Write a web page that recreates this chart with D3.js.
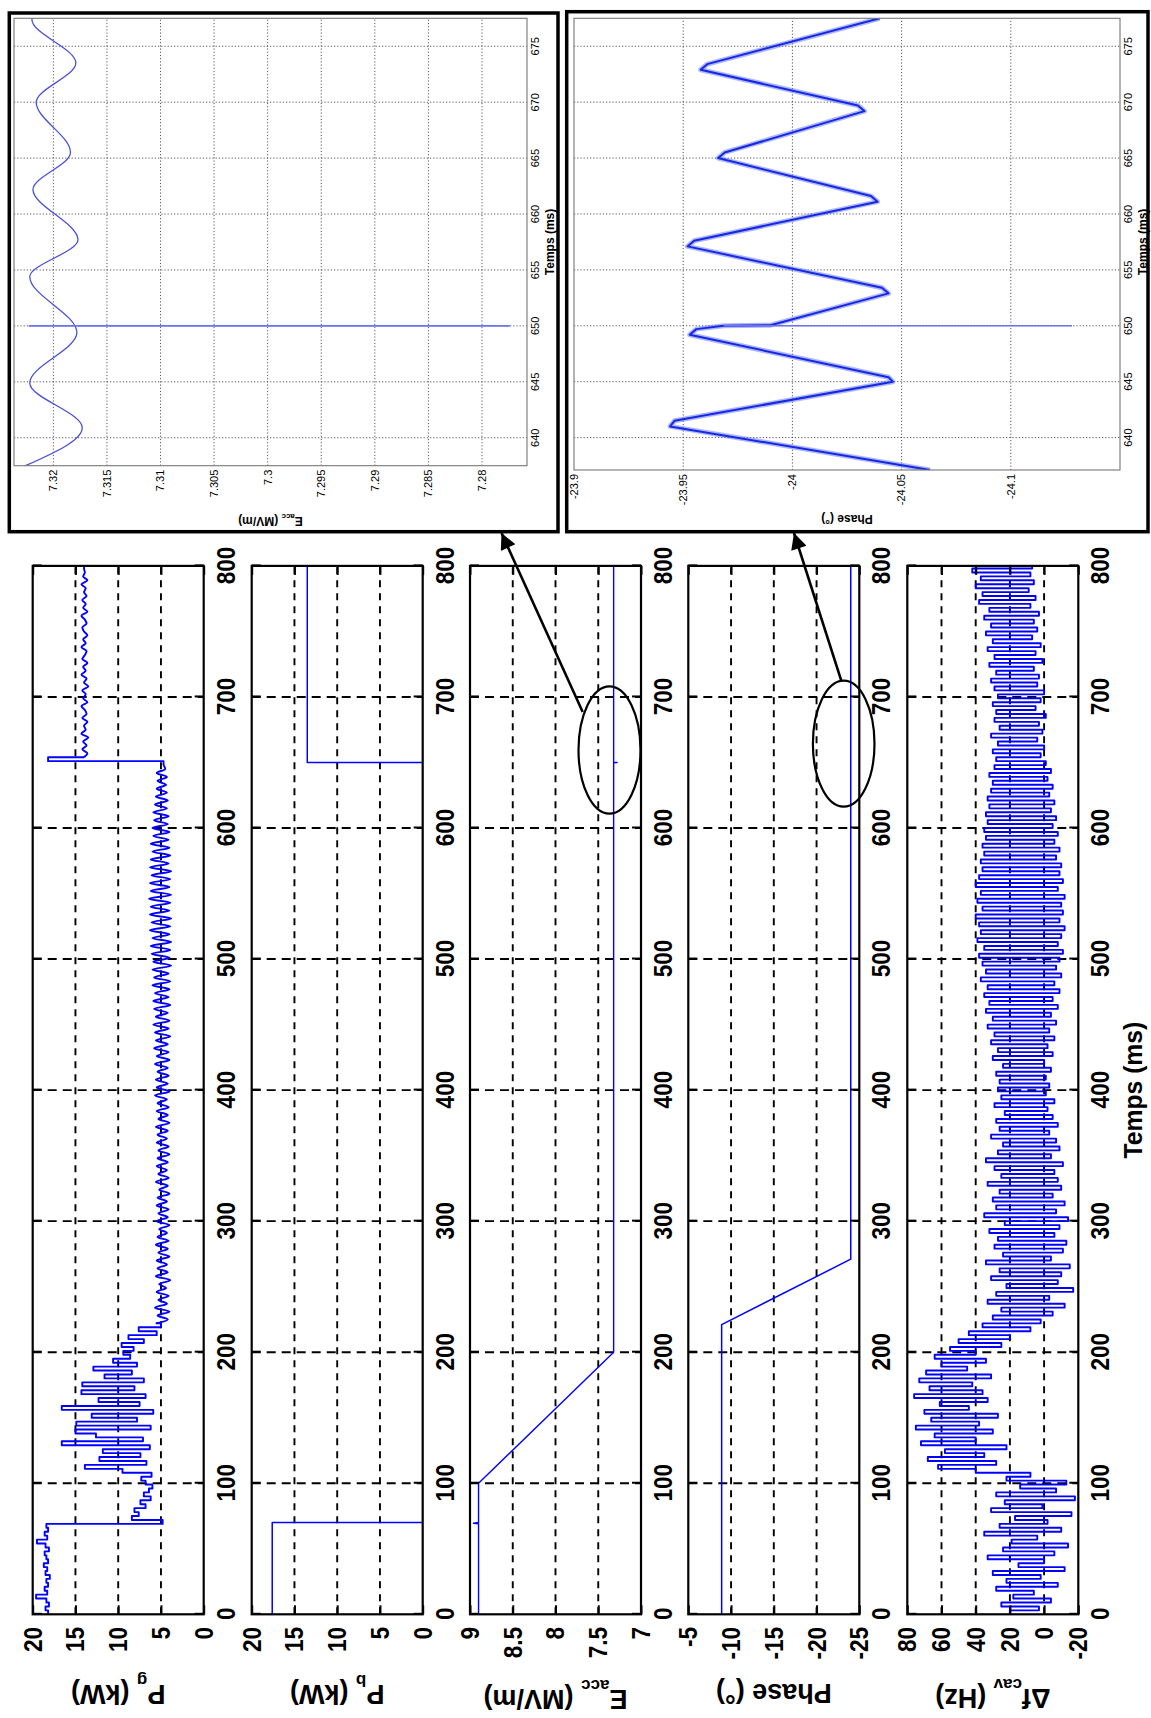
<!DOCTYPE html>
<html><head><meta charset="utf-8">
<script src="https://cdn.jsdelivr.net/npm/d3@7"></script>
<style>
html,body{margin:0;padding:0;background:#fff;}
svg{display:block;}
</style></head><body>
<svg id="chart" width="1151" height="1718"></svg>
<script>
// ---------------- DATA ----------------
const timeTicks = [0, 100, 200, 300, 400, 500, 600, 700, 800];
const timeDomain = [0, 800];

// P_g (kW), sampled every 3 ms from t = 0
const pgStart = 0, pgStep = 3;
const pgValues = [
 18.2,18.5,18.1,18.4,19.6,18.3,18.6,18.2,18.4,18.0,18.5,18.3,18.7,18.2,18.4,18.6,18.1,18.5,19.5,18.3,18.6,18.2,18.4,4.8,
 8.4,7.6,8.1,6.8,7.4,6.2,7.0,6.4,6.0,6.8,
 7.3,6.1,9.5,13.9,6.7,12.2,7.4,11.8,6.3,16.6,7.1,12.6,15.0,6.2,14.9,7.8,13.1,5.9,16.6,7.5,12.3,6.8,14.3,8.1,14.2,7.0,11.6,8.4,12.9,7.8,10.6,8.6,9.4,
 8.2,9.6,7.0,8.8,5.5,7.6,5.0,
 5.6,4.2,5.4,4.0,5.7,4.3,5.3,4.1,5.5,4.4,5.2,3.9,5.6,4.2,5.4,4.3,5.5,4.0,5.3,4.2,5.6,4.1,5.4,4.3,5.2,4.0,5.5,
 4.2,5.3,4.1,5.5,4.3,5.4,4.0,5.2,4.2,5.6,4.1,5.3,4.3,5.5,4.2,5.4,4.0,5.3,4.1,5.5,
 4.3,5.4,4.2,5.6,4.0,5.3,4.2,5.5,4.1,5.4,4.3,5.7,4.0,5.5,4.2,5.6,4.1,5.4,4.2,5.7,
 4.0,5.5,4.1,5.8,4.2,5.6,3.9,5.7,4.1,5.9,4.0,5.6,4.2,5.8,3.9,5.9,4.1,5.7,4.0,6.0,
 3.9,5.8,4.1,6.0,3.8,5.9,
 4.0,6.1,3.9,6.2,3.8,6.0,4.0,6.3,3.9,6.1,
 3.8,6.3,4.0,6.2,3.9,6.4,3.8,6.2,4.0,6.3,
 3.9,6.1,3.8,6.3,4.1,6.2,3.9,6.0,4.0,6.2,
 4.1,5.9,4.0,6.0,4.2,5.8,4.1,5.9,4.3,5.7,
 4.2,5.6,4.3,5.5,4.4,5.4,4.3,5.5,4.5,4.7,
 18.2,
 14.0,13.6,14.2,13.7,14.1,13.5,14.3,13.8,14.0,13.6,
 14.2,13.7,13.9,14.3,13.6,14.1,13.8,14.2,13.5,14.0,
 13.7,14.3,13.8,14.1,13.6,14.2,13.9,13.7,14.3,13.8,
 14.1,13.6,14.0,14.2,13.7,13.9,14.3,13.6,14.1,13.8,
 14.2,13.7,14.0,13.8,14.3,13.6,14.1,13.9,14.0,
 13.9
];

// P_b (kW)
const pbTime  = [0, 70, 650, 800];
const pbValue = [17.6, 0, 13.5, 13.5];

// E_acc (MV/m)
const eaccTime  = [0, 69, 69.5, 70, 100, 200, 649.8, 650, 650.2, 800];
const eaccValue = [8.9, 8.9, 8.96, 8.9, 8.9, 7.32, 7.32, 7.28, 7.32, 7.32];

// Phase (deg)
const phaseTime  = [0, 221, 271, 800];
const phaseValue = [-8.9, -8.9, -24.0, -24.0];

// Delta f_cav (Hz), sampled every 3 ms from t = 0
const dfStart = 0, dfStep = 3;
const dfValues = [
 20,3,25,-4,18,6,28,-8,22,2,30,-12,15,0,33,-6,24,-14,19,4,35,-10,26,-2,17,-16,31,1,23,-18,28,-7,14,-13,
 22,8,40,
 62,28,68,35,58,22,72,40,64,30,75,38,66,27,70,44,61,33,76,36,67,42,73,31,69,45,60,34,64,40,
 55,25,50,20,44,8,36,2,
 30,-5,25,-12,33,-3,28,-17,22,-8,31,-10,26,-15,34,-4,24,-11,29,-13,27,-6,32,-9,23,-14,35,-7,28,-12,
 30,-5,26,-10,33,-8,25,-6,29,-11,34,-4,27,-9,24,-7,31,-3,26,-8,28,-5,23,-2,29,-6,25,-1,27,
 -3,26,-1,28,-4,24,0,30,-5,27,-2,31,-6,29,-3,33,-7,30,-4,34,
 -8,32,-5,35,-9,33,-6,37,-10,34,-7,36,-9,38,-11,35,-8,39,-10,37,
 -12,38,-9,40,-11,36,-10,39,-12,37,-8,40,-11,38,-9,36,-10,37,-7,35,
 -9,36,-6,34,-8,35,-5,33,-7,34,-4,32,-6,33,-3,31,-5,30,-2,32,-4,29,-1,
 28,2,30,0,27,4,31,1,26,3,29,-1,28,5,30,2,27,0,29,4,
 31,3,28,6,32,1,29,5,33,2,30,7,34,4,31,6,35,3,32,8,
 38,5,36,9,40,6,37,8,42,7,35
];

const pTicks     = [0, 5, 10, 15, 20];
const eaccTicks  = [7, 7.5, 8, 8.5, 9];
const phaseTicks = [-25, -20, -15, -10, -5];
const dfTicks    = [-20, 0, 20, 40, 60, 80];

// Zoom insets
const insetTimeTicks = [640, 645, 650, 655, 660, 665, 670, 675];
const eaccZoomTicks  = [7.28, 7.285, 7.29, 7.295, 7.3, 7.305, 7.31, 7.315, 7.32];
const phaseZoomTicks = [-24.1, -24.05, -24, -23.95, -23.9];
const eaccZoomTime   = [637.5, 640.9, 644.9, 649.4, 654.4, 657.7, 662.2, 665.5, 670.0, 673.5, 677.4, 677.6];
const eaccZoomValue  = [7.3226, 7.3173, 7.3222, 7.3178, 7.3222, 7.3177, 7.3219, 7.3184, 7.3216, 7.3179, 7.3220, 7.3219];
const eaccSpikeTime  = [650, 650];
const eaccSpikeValue = [7.3223, 7.2774];
const phaseZoomTime  = [637.1, 641.0, 641.5, 645.0, 645.4, 649.2, 649.7, 650.0, 650.05, 652.9, 653.4, 657.1, 657.6, 661.1, 661.6, 665.0, 665.5, 669.2, 669.7, 672.9, 673.4, 677.5];
const phaseZoomValue = [-24.063, -23.944, -23.946, -24.046, -24.044, -23.953, -23.956, -23.9685, -23.99, -24.044, -24.041, -23.952, -23.955, -24.039, -24.036, -23.966, -23.969, -24.033, -24.030, -23.958, -23.961, -24.040];
const phaseSpikeTime  = [650, 650];
const phaseSpikeValue = [-23.9685, -24.128];

// ---------------- LAYOUT (figure drawn unrotated, then turned 90deg) ----------------
const svg = d3.select('#chart');
const root = svg.append('g').attr('transform', 'translate(0,1718) rotate(-90)');
const defs = svg.append('defs');

const FONT = '"Liberation Sans", Arial, Helvetica, sans-serif';
const BLUE = '#0000ff';
const x = d3.scaleLinear(timeDomain, [103.7, 1152.1]);
const panelTop = [32.7, 251.7, 470, 688.3, 907.3];
const panelH = 171;
const TSCALE = 0.85;

const uniform = (start, step, vals) => vals.map((v, i) => ({t: start + i * step, v}));
const paired = (ts, vs) => ts.map((t, i) => ({t, v: vs[i]}));

const panels = [
  {lab: ['P', 'g', ' (kW)'], domain: [0, 20], ticks: pTicks, labU: 33,
   data: uniform(pgStart, pgStep, pgValues), w: 1.9,
   segs: [[0, 222, d3.curveStepAfter], [222, 648, d3.curveMonotoneX], [648, 654, d3.curveStepAfter], [654, 801, d3.curveMonotoneX]]},
  {lab: ['P', 'b', ' (kW)'], domain: [0, 20], ticks: pTicks, labU: 33,
   data: paired(pbTime, pbValue), w: 1.5, segs: [[0, 800, d3.curveStepAfter]]},
  {lab: ['E', 'acc', ' (MV/m)'], domain: [7, 9], ticks: eaccTicks, labU: 28,
   data: paired(eaccTime, eaccValue), w: 1.4, segs: [[0, 800, d3.curveLinear]]},
  {lab: ['Phase (°)', '', ''], domain: [-25, -5], ticks: phaseTicks, labU: 34,
   data: paired(phaseTime, phaseValue), w: 1.5, segs: [[0, 800, d3.curveLinear]]},
  {lab: ['Δf', 'cav', ' (Hz)'], domain: [-20, 80], ticks: dfTicks, labU: 29,
   data: uniform(dfStart, dfStep, dfValues), w: 1.9, segs: [[0, 801, d3.curveStepAfter]]}
];

panels.forEach((p, i) => {
  const top = panelTop[i], bot = top + panelH;
  const y = d3.scaleLinear(p.domain, [bot, top]);
  const g = root.append('g');
  const [u0, u1] = x.range();

  defs.append('clipPath').attr('id', 'clip' + i).append('rect')
    .attr('x', u0).attr('y', top).attr('width', u1 - u0).attr('height', panelH);

  // grid
  g.append('g').selectAll('line')
    .data(p.ticks.filter(d => d > p.domain[0] && d < p.domain[1])).join('line')
    .attr('x1', u0).attr('x2', u1).attr('y1', d => y(d)).attr('y2', d => y(d))
    .attr('stroke', '#000').attr('stroke-width', 1.9).attr('stroke-dasharray', '7,6');
  g.append('g').selectAll('line')
    .data(timeTicks.filter(d => d > timeDomain[0] && d < timeDomain[1])).join('line')
    .attr('x1', d => x(d)).attr('x2', d => x(d)).attr('y1', top).attr('y2', bot)
    .attr('stroke', '#000').attr('stroke-width', 1.9).attr('stroke-dasharray', '9,6');

  // series (piecewise drawing style)
  const sg = g.append('g').attr('clip-path', `url(#clip${i})`);
  p.segs.forEach(([t0, t1, curve]) => {
    sg.append('path').datum(p.data.filter(d => d.t >= t0 && d.t <= t1))
      .attr('fill', 'none').attr('stroke', BLUE).attr('stroke-width', p.w)
      .attr('stroke-linejoin', 'round')
      .attr('d', d3.line().x(d => x(d.t)).y(d => y(d.v)).curve(curve));
  });

  // axes (ticks inward)
  const fmt = d => String(d);
  const ab = g.append('g').attr('transform', `translate(0,${bot})`)
    .call(d3.axisBottom(x).tickValues(timeTicks).tickSizeInner(-9).tickSizeOuter(0).tickPadding(12).tickFormat(fmt));
  g.append('g').attr('transform', `translate(0,${top})`)
    .call(d3.axisTop(x).tickValues(timeTicks).tickSizeInner(-9).tickSizeOuter(0).tickFormat(''));
  const al = g.append('g').attr('transform', `translate(${u0},0)`)
    .call(d3.axisLeft(y).tickValues(p.ticks).tickSizeInner(-9).tickSizeOuter(0).tickPadding(12.7 / TSCALE).tickFormat(fmt));
  g.append('g').attr('transform', `translate(${u1},0)`)
    .call(d3.axisRight(y).tickValues(p.ticks).tickSizeInner(-9).tickSizeOuter(0).tickFormat(''));
  g.selectAll('.domain').remove();
  g.selectAll('.tick line').attr('stroke', '#000').attr('stroke-width', 2);
  [ab, al].forEach(a => a.selectAll('text')
    .attr('transform', `scale(${TSCALE},1)`)
    .attr('font-family', FONT).attr('font-weight', 'bold').attr('font-size', 26.5).attr('fill', '#000'));

  // box
  g.append('rect').attr('x', u0).attr('y', top).attr('width', u1 - u0).attr('height', panelH)
    .attr('fill', 'none').attr('stroke', '#000').attr('stroke-width', 2.2);

  // y label
  const t = g.append('text')
    .attr('transform', `translate(${p.labU},${(top + bot) / 2}) rotate(-90)`)
    .attr('text-anchor', 'middle').attr('font-family', FONT).attr('font-weight', 'bold')
    .attr('font-size', 27).attr('fill', '#000');
  t.append('tspan').text(p.lab[0]);
  if (p.lab[1]) {
    t.append('tspan').attr('dy', 10).attr('font-size', 17).text(p.lab[1]);
    t.append('tspan').attr('dy', -10).text(p.lab[2]);
  }
});

// main x label
root.append('text').attr('transform', `translate(${x(400)},1142) scale(0.95,1)`)
  .attr('text-anchor', 'middle').attr('font-family', FONT).attr('font-weight', 'bold')
  .attr('font-size', 26).text('Temps (ms)');

// ---------------- INSETS ----------------
const insets = [
  {frame: {u0: 1186.3, u1: 1705, v0: 9.3, v1: 558},
   tRange: [637.5, 677.5], uRange: [1252.3, 1699.7],
   vDomain: [7.2758, 7.32367], vRange: [527, 14],
   ticks: eaccZoomTicks, lab: ['E', 'acc', ' (MV/m)'], labU: 1201,
   data: paired(eaccZoomTime, eaccZoomValue), spike: paired(eaccSpikeTime, eaccSpikeValue),
   curve: d3.curveMonotoneX, color: '#4a50d8', w: 1.3, halo: 0},
  {frame: {u0: 1186.3, u1: 1706.3, v0: 566.7, v1: 1148},
   tRange: [637.1, 677.5], uRange: [1248, 1699.7],
   vDomain: [-24.15, -23.9], vRange: [1120, 574],
   ticks: phaseZoomTicks, lab: ['Phase (°)', '', ''], labU: 1203,
   data: paired(phaseZoomTime, phaseZoomValue), spike: paired(phaseSpikeTime, phaseSpikeValue),
   curve: d3.curveLinear, color: '#1428e6', w: 2.0, halo: 5}
];

insets.forEach((s, i) => {
  const g = root.append('g');
  const xs = d3.scaleLinear(s.tRange, s.uRange);
  const ys = d3.scaleLinear(s.vDomain, s.vRange);
  const [a0, a1] = s.uRange;
  const [bTop, bBot] = [s.vRange[1], s.vRange[0]];

  g.append('rect').attr('x', s.frame.u0).attr('y', s.frame.v0)
    .attr('width', s.frame.u1 - s.frame.u0).attr('height', s.frame.v1 - s.frame.v0)
    .attr('fill', '#fff').attr('stroke', '#000').attr('stroke-width', 3.5);

  defs.append('clipPath').attr('id', 'iclip' + i).append('rect')
    .attr('x', a0).attr('y', bTop).attr('width', a1 - a0).attr('height', bBot - bTop);

  // grid
  g.append('g').selectAll('line').data(s.ticks.filter(d => ys(d) > bTop + 1 && ys(d) < bBot - 1)).join('line')
    .attr('x1', a0).attr('x2', a1).attr('y1', d => ys(d)).attr('y2', d => ys(d))
    .attr('stroke', '#444').attr('stroke-width', 0.9).attr('stroke-dasharray', '1.2,2');
  g.append('g').selectAll('line').data(insetTimeTicks).join('line')
    .attr('x1', d => xs(d)).attr('x2', d => xs(d)).attr('y1', bTop).attr('y2', bBot)
    .attr('stroke', '#444').attr('stroke-width', 0.9).attr('stroke-dasharray', '1.2,2');

  const line = d3.line().x(d => xs(d.t)).y(d => ys(d.v));
  const cg = g.append('g').attr('clip-path', `url(#iclip${i})`);
  if (s.halo) {
    cg.append('path').datum(s.data).attr('fill', 'none').attr('stroke', '#6d7cf2')
      .attr('stroke-width', s.halo).attr('stroke-opacity', 0.55).attr('stroke-linejoin', 'round')
      .attr('d', line.curve(s.curve));
  }
  cg.append('path').datum(s.data).attr('fill', 'none').attr('stroke', s.color)
    .attr('stroke-width', s.w).attr('stroke-linejoin', 'round').attr('d', line.curve(s.curve));
  cg.append('path').datum(s.spike).attr('fill', 'none').attr('stroke', '#6b74ec')
    .attr('stroke-width', 1.6).attr('d', line.curve(d3.curveLinear));

  g.append('rect').attr('x', a0).attr('y', bTop).attr('width', a1 - a0).attr('height', bBot - bTop)
    .attr('fill', 'none').attr('stroke', '#777').attr('stroke-width', 1.1);

  // tick labels
  g.append('g').selectAll('text').data(s.ticks).join('text')
    .attr('x', a0 - 4).attr('y', d => ys(d)).attr('dy', '0.35em').attr('text-anchor', 'end')
    .attr('font-family', FONT).attr('font-size', 11).text(d => String(d));
  g.append('g').selectAll('text').data(insetTimeTicks).join('text')
    .attr('x', d => xs(d)).attr('y', bBot + 12).attr('text-anchor', 'middle')
    .attr('font-family', FONT).attr('font-size', 11).text(d => String(d));
  g.append('text').attr('x', xs(657.5)).attr('y', bBot + 27).attr('text-anchor', 'middle')
    .attr('font-family', FONT).attr('font-weight', 'bold').attr('font-size', 12).text('Temps (ms)');

  const t = g.append('text')
    .attr('transform', `translate(${s.labU},${(bTop + bBot) / 2}) rotate(-90)`)
    .attr('text-anchor', 'middle').attr('font-family', FONT).attr('font-weight', 'bold').attr('font-size', 12);
  t.append('tspan').text(s.lab[0]);
  if (s.lab[1]) {
    t.append('tspan').attr('dy', 3).attr('font-size', 8).text(s.lab[1]);
    t.append('tspan').attr('dy', -3).text(s.lab[2]);
  }
});

// ---------------- ANNOTATIONS ----------------
defs.append('marker').attr('id', 'ah').attr('viewBox', '0 0 10 10')
  .attr('refX', 10).attr('refY', 5).attr('markerUnits', 'userSpaceOnUse')
  .attr('markerWidth', 22).attr('markerHeight', 16).attr('orient', 'auto')
  .append('path').attr('d', 'M0,0 L10,5 L0,10 z').attr('fill', '#000');

const annotations = [
  {cu: 968, cv: 609.5, ru: 63.7, rv: 31, from: [1006, 582.7], to: [1185, 501.5]},
  {cu: 974.3, cv: 843.7, ru: 63, rv: 30.8, from: [1036.4, 841.6], to: [1185, 794]}
];
annotations.forEach(a => {
  root.append('ellipse').attr('cx', a.cu).attr('cy', a.cv).attr('rx', a.ru).attr('ry', a.rv)
    .attr('fill', 'none').attr('stroke', '#000').attr('stroke-width', 2.2);
  root.append('line').attr('x1', a.from[0]).attr('y1', a.from[1]).attr('x2', a.to[0]).attr('y2', a.to[1])
    .attr('stroke', '#000').attr('stroke-width', 2.6).attr('marker-end', 'url(#ah)');
});
</script>
</body></html>
